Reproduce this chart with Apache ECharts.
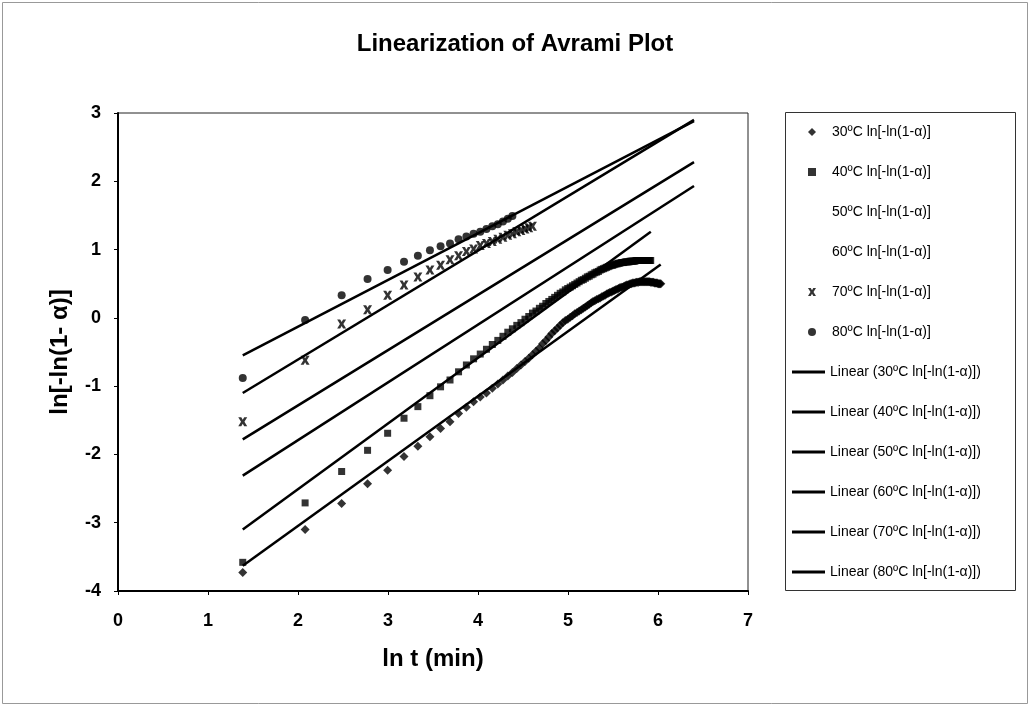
<!DOCTYPE html>
<html><head><meta charset="utf-8">
<script src="https://cdn.jsdelivr.net/npm/echarts@6/dist/echarts.min.js"></script>
<style>html,body{margin:0;padding:0;background:#fff}#c{width:1030px;height:706px}</style>
</head><body><div id="c"></div>
<script>
// ln t values (t = 4, 8, 12, ... min)
const lnT = [
1.386, 2.079, 2.485, 2.773, 2.996, 3.178, 3.332, 3.466, 3.584, 3.689,
3.784, 3.871, 3.951, 4.025, 4.094, 4.159, 4.220, 4.277, 4.331, 4.382,
4.431, 4.477, 4.522, 4.564, 4.605, 4.644, 4.682, 4.718, 4.754, 4.787,
4.820, 4.852, 4.883, 4.913, 4.942, 4.970, 4.997, 5.024, 5.050, 5.075,
5.100, 5.124, 5.148, 5.170, 5.193, 5.215, 5.236, 5.258, 5.278, 5.298,
5.318, 5.338, 5.357, 5.375, 5.394, 5.412, 5.429, 5.447, 5.464, 5.481,
5.497, 5.513, 5.529, 5.545, 5.561, 5.576, 5.591, 5.606, 5.620, 5.635,
5.649, 5.663, 5.677, 5.690, 5.704, 5.717, 5.730, 5.743, 5.756, 5.768,
5.781, 5.793, 5.805, 5.817, 5.829, 5.841, 5.852, 5.864, 5.875, 5.886,
5.897, 5.908, 5.919, 5.930, 5.940, 5.951, 5.961, 5.971, 5.982, 5.991,
6.001, 6.011, 6.021, 6.031];

const y30 = [
-3.73, -3.10, -2.72, -2.43, -2.23, -2.03, -1.88, -1.74, -1.62, -1.52,
-1.40, -1.31, -1.23, -1.16, -1.10, -1.03, -0.97, -0.91, -0.85, -0.80,
-0.74, -0.69, -0.64, -0.59, -0.54, -0.49, -0.44, -0.38, -0.33, -0.28,
-0.23, -0.19, -0.15, -0.11, -0.07, -0.04, -0.02, 0.01, 0.03, 0.06,
0.08, 0.10, 0.12, 0.14, 0.16, 0.18, 0.20, 0.22, 0.24, 0.25,
0.27, 0.28, 0.29, 0.31, 0.32, 0.33, 0.35, 0.36, 0.37, 0.38,
0.39, 0.40, 0.41, 0.42, 0.43, 0.44, 0.45, 0.45, 0.46, 0.47,
0.48, 0.48, 0.49, 0.50, 0.50, 0.51, 0.51, 0.51, 0.52, 0.52,
0.52, 0.53, 0.53, 0.53, 0.53, 0.53, 0.53, 0.53, 0.53, 0.53,
0.53, 0.53, 0.52, 0.52, 0.52, 0.52, 0.51, 0.51, 0.51, 0.51,
0.50, 0.50, 0.50, 0.50];

const y40 = [
-3.58, -2.71, -2.25, -1.94, -1.69, -1.47, -1.30, -1.14, -1.01, -0.91,
-0.79, -0.69, -0.60, -0.53, -0.46, -0.39, -0.33, -0.27, -0.21, -0.16,
-0.11, -0.07, -0.02, 0.02, 0.07, 0.10, 0.14, 0.17, 0.21, 0.24,
0.27, 0.30, 0.33, 0.36, 0.38, 0.41, 0.43, 0.45, 0.47, 0.49,
0.51, 0.53, 0.55, 0.56, 0.58, 0.60, 0.61, 0.63, 0.64, 0.66,
0.67, 0.68, 0.70, 0.71, 0.72, 0.73, 0.74, 0.75, 0.76, 0.77,
0.77, 0.78, 0.79, 0.79, 0.80, 0.80, 0.81, 0.81, 0.81, 0.82,
0.82, 0.82, 0.82, 0.83, 0.83, 0.83, 0.83, 0.83, 0.84, 0.84,
0.84, 0.84, 0.84, 0.84, 0.84, 0.84, 0.84, 0.84, 0.84, 0.84,
0.84, 0.84, 0.84];

const y50 = [];
const y60 = [];

const y70 = [-1.52, -0.62, -0.09, 0.12, 0.33, 0.48, 0.60, 0.70, 0.77, 0.85,
0.91, 0.97, 1.01, 1.06, 1.09, 1.12, 1.15, 1.18, 1.21, 1.23,
1.26, 1.28, 1.30, 1.32, 1.34];

const y80 = [-0.88, -0.03, 0.33, 0.57, 0.70, 0.82, 0.91, 0.99, 1.05, 1.09,
1.15, 1.19, 1.23, 1.26, 1.30, 1.34, 1.37, 1.41, 1.45, 1.49];

// linear trendline end points, order 30..80
const temps = ['30', '40', '50', '60', '70', '80'];
const fitXStart = [1.386, 1.386, 1.386, 1.386, 1.386, 1.386];
const fitXEnd = [6.03, 5.92, 6.40, 6.40, 6.40, 6.40];
const fitYStart = [-3.63, -3.10, -2.31, -1.78, -1.10, -0.55];
const fitYEnd = [0.78, 1.26, 1.93, 2.28, 2.90, 2.88];

const xTicks = [0, 1, 2, 3, 4, 5, 6, 7];
const yTicks = [-4, -3, -2, -1, 0, 1, 2, 3];

const F = '"Liberation Sans", Arial, Helvetica, sans-serif';
const xMark = 'path://M0,0L3.4,0L5,2.8L6.6,0L10,0L6.9,5L10,10L6.6,10L5,7.2L3.4,10L0,10L3.1,5Z';
const ys = [y30, y40, y50, y60, y70, y80];
const symbols = ['diamond', 'rect', 'circle', 'circle', xMark, 'circle'];
const sizes = [9, 7, 7, 7, 9, 8];
const scatterNames = temps.map(t => t + 'ºC ln[-ln(1-α)]');
const linearNames = temps.map(t => 'Linear (' + t + 'ºC ln[-ln(1-α)])');

const series = [];
temps.forEach((t, i) => {
  const hidden = ys[i].length === 0;
  series.push({
    name: scatterNames[i], type: 'scatter',
    symbol: symbols[i], symbolSize: sizes[i],
    itemStyle: { color: hidden ? 'rgba(0,0,0,0)' : '#000' },
    data: ys[i].map((v, k) => [lnT[k], v]),
    z: 3
  });
});
temps.forEach((t, i) => {
  series.push({
    name: linearNames[i], type: 'line', symbol: 'none', showSymbol: false,
    lineStyle: { color: '#000', width: 2.5 },
    itemStyle: { color: '#000' },
    data: [[fitXStart[i], fitYStart[i]], [fitXEnd[i], fitYEnd[i]]],
    z: 2
  });
});

const chart = echarts.init(document.getElementById('c'));
chart.setOption({
  animation: false,
  backgroundColor: '#fff',
  title: {
    text: 'Linearization of Avrami Plot', left: 'center', top: 32, padding: 0,
    textStyle: { fontFamily: F, fontSize: 24, fontWeight: 'bold', color: '#000' }
  },
  grid: { left: 118, right: 282, top: 113, bottom: 115, show: true, borderColor: '#222', borderWidth: 1, backgroundColor: 'transparent' },
  xAxis: {
    type: 'value', min: xTicks[0], max: xTicks[xTicks.length - 1], interval: 1,
    name: 'ln t (min)', nameLocation: 'middle', nameGap: 56,
    nameTextStyle: { fontFamily: F, fontSize: 24, fontWeight: 'bold', color: '#000' },
    axisLine: { show: true, onZero: false, lineStyle: { color: '#000', width: 2 } },
    axisTick: { show: true, length: 4, lineStyle: { color: '#000' } },
    axisLabel: { margin: 21, fontFamily: F, fontSize: 18, fontWeight: 'bold', color: '#000' },
    splitLine: { show: false }
  },
  yAxis: {
    type: 'value', min: yTicks[0], max: yTicks[yTicks.length - 1], interval: 1,
    name: 'ln[-ln(1- α)]', nameLocation: 'middle', nameGap: 46, nameRotate: 90,
    nameTextStyle: { fontFamily: F, fontSize: 24, fontWeight: 'bold', color: '#000' },
    axisLine: { show: true, onZero: false, lineStyle: { color: '#000', width: 2 } },
    axisTick: { show: true, length: 4, lineStyle: { color: '#000' } },
    axisLabel: { margin: 17, fontFamily: F, fontSize: 18, fontWeight: 'bold', color: '#000' },
    splitLine: { show: false }
  },
  legend: [
    {
      data: scatterNames, orient: 'vertical', left: 808, top: 124, padding: 0,
      itemWidth: 8, itemHeight: 8, itemGap: 24, selectedMode: false,
      textStyle: { fontFamily: F, fontSize: 14, color: '#000', lineHeight: 16, padding: [0, 0, 0, 11] }
    },
    {
      data: linearNames.map(n => ({ name: n, icon: 'rect' })), orient: 'vertical', left: 792, top: 364, padding: 0,
      itemWidth: 33, itemHeight: 3, itemGap: 24, selectedMode: false,
      itemStyle: { color: '#000', borderWidth: 0 },
      textStyle: { fontFamily: F, fontSize: 14, color: '#000', lineHeight: 16 }
    }
  ],
  graphic: [
    { type: 'rect', shape: { x: 785.5, y: 112.5, width: 230, height: 478 }, style: { fill: 'none', stroke: '#333', lineWidth: 1 }, silent: true },
    { type: 'rect', shape: { x: 2.5, y: 2.5, width: 1025, height: 701 }, style: { fill: 'none', stroke: '#999', lineWidth: 1 }, silent: true }
  ],
  series: series
});
</script>
</body></html>
